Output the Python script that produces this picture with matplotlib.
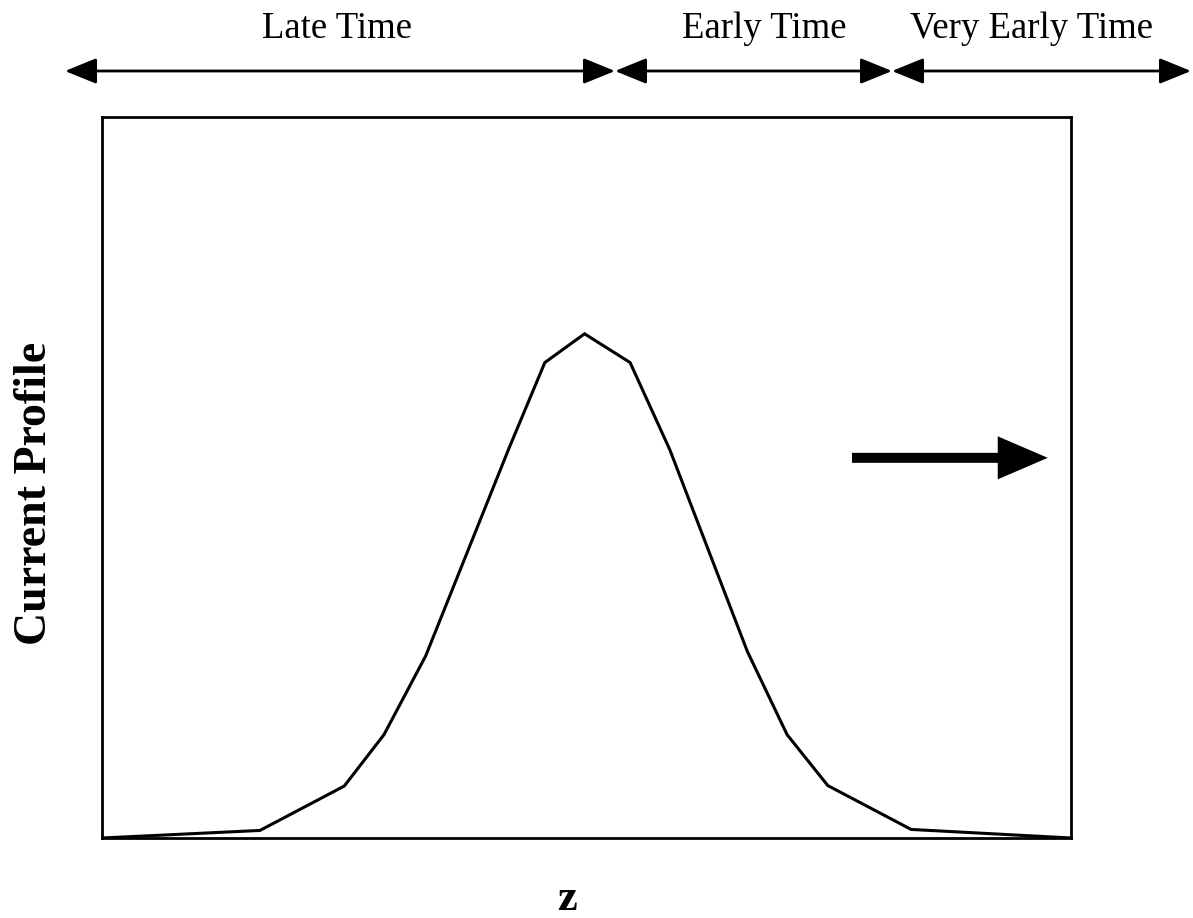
import matplotlib
matplotlib.use("Agg")
import matplotlib.pyplot as plt
from matplotlib.patches import FancyArrowPatch

# ---- data ----
z = [0.0, 1.63, 2.50, 2.91, 3.34, 4.20, 4.57, 4.98, 5.45, 5.86, 6.66, 7.07, 7.49, 8.35, 10.0]
profile = [0.0, 0.015, 0.103, 0.205, 0.361, 0.773, 0.943, 1.0, 0.943, 0.770, 0.370, 0.205, 0.104, 0.017, 0.0]

region_labels = ["Late Time", "Early Time", "Very Early Time"]
region_label_x = [337, 764, 1031]          # figure pixels (centres)
region_bounds = [65, 615, 892, 1191]       # figure pixels (arrow ends)

W, H = 1193, 918
fig = plt.figure(figsize=(W / 100, H / 100), dpi=100)
ax = fig.add_axes([102 / W, (H - 838) / H, 969 / W, 721 / H])

ax.plot(z, profile, color="black", lw=2.2, solid_joinstyle="miter")
ax.set_xlim(0, 10)
ax.set_ylim(0, 1.43)
ax.set_xticks([])
ax.set_yticks([])
for s in ax.spines.values():
    s.set_linewidth(2.0)
    s.set_color("black")

# big arrow inside the plot
big = FancyArrowPatch((7.74, 0.754), (9.76, 0.754),
                      arrowstyle="simple,head_length=36,head_width=31,tail_width=7.2",
                      mutation_scale=1, lw=0, color="black",
                      shrinkA=0, shrinkB=0, transform=ax.transData)
ax.add_patch(big)

# axis labels
fig.text(35 / W, (H - 493) / H, "Current Profile", rotation=90,
         ha="center", va="center", fontsize=33, fontweight="bold",
         family=["Liberation Serif", "DejaVu Serif"])
fig.text(567 / W, 8 / H, "z", ha="center", va="baseline",
         fontsize=32, fontweight="bold",
         family=["Liberation Serif", "DejaVu Serif"])

# time-region arrows on top
y_arrow = (H - 71) / H
for i in range(3):
    arr = FancyArrowPatch((region_bounds[i] / W, y_arrow),
                          (region_bounds[i + 1] / W, y_arrow),
                          arrowstyle="<|-|>,head_length=19.4,head_width=7.9",
                          mutation_scale=1, lw=2.0, color="black",
                          shrinkA=0, shrinkB=0, transform=fig.transFigure)
    fig.add_artist(arr)

for lab, xc in zip(region_labels, region_label_x):
    fig.text(xc / W, (H - 38) / H, lab, ha="center", va="baseline",
             fontsize=26.5, family=["Liberation Serif", "DejaVu Serif"])

fig.savefig("out.png", dpi=100, facecolor="white")
